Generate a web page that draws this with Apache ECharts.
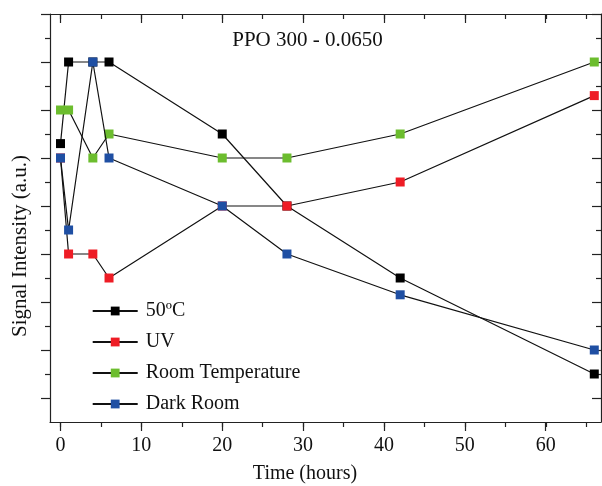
<!DOCTYPE html>
<html>
<head>
<meta charset="utf-8">
<script src="https://cdn.jsdelivr.net/npm/echarts@6/dist/echarts.min.js"></script>
<style>
html,body{margin:0;padding:0;background:#fff;}
#chart{width:602px;height:486px;}
</style>
</head>
<body>
<div id="chart"></div>
<script>
// ---- data ----
const times = [0, 1, 4, 6, 20, 28, 42, 66];
const seriesNames = ['50ºC', 'UV', 'Room Temperature', 'Dark Room'];
const v50C = [5.3, 7.0, 7.0, 7.0, 5.5, 4.0, 2.5, 0.5];
const vUV = [5.0, 3.0, 3.0, 2.5, 4.0, 4.0, 4.5, 6.3];
const vRT = [6.0, 6.0, 5.0, 5.5, 5.0, 5.0, 5.5, 7.0];
const vDark = [5.0, 3.5, 7.0, 5.0, 4.0, 3.0, 2.15, 1.0];
const xTickLabels = [0, 10, 20, 30, 40, 50, 60];
const titleText = 'PPO 300 - 0.0650';
const xTitle = 'Time (hours)';
const yTitle = 'Signal Intensity (a.u.)';

const colors = ['#000000', '#ee1c25', '#6cbd2e', '#1f4fa3'];
const allValues = [v50C, vUV, vRT, vDark];

const FONT = 'Liberation Serif, Times New Roman, serif';
const AX = '#222';
const lineStyleAx = { color: AX, width: 1.2 };

const chart = echarts.init(document.getElementById('chart'), null, { renderer: 'canvas' });

const series = allValues.map((vals, i) => ({
  name: seriesNames[i],
  type: 'line',
  xAxisIndex: 0,
  yAxisIndex: 0,
  data: times.map((t, j) => [t, vals[j]]),
  symbol: 'rect',
  symbolSize: 9,
  lineStyle: { color: '#111', width: 1.2 },
  itemStyle: { color: colors[i] },
  emphasis: { disabled: true },
  z: 2 + i
}));

const boxAxis = (gi, pos, min, max) => ({
  gridIndex: gi, type: 'value', min: min, max: max, position: pos,
  axisLine: { show: true, onZero: false, lineStyle: lineStyleAx },
  axisTick: { show: false }, axisLabel: { show: false }, splitLine: { show: false }
});

const option = {
  animation: false,
  backgroundColor: '#ffffff',
  grid: [
    // 0: main plot box
    { left: 50, right: 1, top: 14, bottom: 64 },
    // 1: y tick carrier (majors from 398 to 14)
    { left: 50, right: 1, top: 14, bottom: 88 },
    // 2: x minor-tick carrier, 0..65
    { left: 60.5, right: 15.8, top: 14, bottom: 64 },
    // 3: x major-tick carrier, 0..60
    { left: 60.5, right: 56.3, top: 14, bottom: 64 }
  ],
  xAxis: [
    boxAxis(0, 'bottom', -1.298, 66.83),
    boxAxis(0, 'top', -1.298, 66.83),
    { gridIndex: 1, type: 'value', show: false, min: 0, max: 1 },
    { gridIndex: 2, type: 'value', min: 0, max: 65, interval: 5, position: 'bottom',
      axisLine: { show: false, onZero: false },
      axisTick: { show: true, length: 5, lineStyle: lineStyleAx },
      axisLabel: { show: false }, splitLine: { show: false } },
    { gridIndex: 2, type: 'value', min: 0, max: 65, interval: 5, position: 'top',
      axisLine: { show: false, onZero: false },
      axisTick: { show: true, inside: true, length: 5, lineStyle: lineStyleAx },
      axisLabel: { show: false }, splitLine: { show: false } },
    { gridIndex: 3, type: 'value', min: 0, max: 60, interval: 10, position: 'bottom',
      axisLine: { show: false, onZero: false },
      axisTick: { show: true, length: 9, lineStyle: lineStyleAx },
      axisLabel: { show: true, margin: 14, color: '#111', fontFamily: FONT, fontSize: 20,
        formatter: v => (xTickLabels.indexOf(v) >= 0 ? String(v) : '') },
      splitLine: { show: false } },
    { gridIndex: 3, type: 'value', min: 0, max: 60, interval: 10, position: 'top',
      axisLine: { show: false, onZero: false },
      axisTick: { show: true, inside: true, length: 9, lineStyle: lineStyleAx },
      axisLabel: { show: false }, splitLine: { show: false } }
  ],
  yAxis: [
    boxAxis(0, 'left', -0.5, 8),
    boxAxis(0, 'right', -0.5, 8),
    { gridIndex: 1, type: 'value', min: 0, max: 8, interval: 1, position: 'left',
      axisLine: { show: false, onZero: false },
      axisTick: { show: true, length: 9, lineStyle: lineStyleAx },
      minorTick: { show: true, splitNumber: 2, length: 5, lineStyle: lineStyleAx },
      axisLabel: { show: false }, splitLine: { show: false } },
    { gridIndex: 1, type: 'value', min: 0, max: 8, interval: 1, position: 'right',
      axisLine: { show: false, onZero: false },
      axisTick: { show: true, inside: true, length: 9, lineStyle: lineStyleAx },
      minorTick: { show: true, splitNumber: 2, length: 5, lineStyle: lineStyleAx },
      axisLabel: { show: false }, splitLine: { show: false } },
    { gridIndex: 2, type: 'value', show: false, min: 0, max: 1 },
    { gridIndex: 3, type: 'value', show: false, min: 0, max: 1 }
  ],
  legend: {
    orient: 'vertical',
    left: 91.7,
    top: 301,
    padding: 0,
    itemGap: 11,
    itemWidth: 45,
    itemHeight: 11,
    selectedMode: false,
    data: seriesNames,
    textStyle: { fontFamily: FONT, fontSize: 20, lineHeight: 20, color: '#111', padding: [0, 0, 0, 3] }
  },
  graphic: [
    { type: 'text', x: 307.5, y: 40.5, style: { text: titleText, fontFamily: FONT, fontSize: 21,
      fill: '#111', textAlign: 'center', textVerticalAlign: 'middle' } },
    { type: 'text', x: 305, y: 474, style: { text: xTitle, fontFamily: FONT, fontSize: 20,
      fill: '#111', textAlign: 'center', textVerticalAlign: 'middle' } },
    { type: 'text', x: 20, y: 246, rotation: Math.PI / 2, style: { text: yTitle, fontFamily: FONT, fontSize: 21,
      fill: '#111', textAlign: 'center', textVerticalAlign: 'middle' } }
  ],
  series: series
};
chart.setOption(option);
</script>
</body>
</html>
